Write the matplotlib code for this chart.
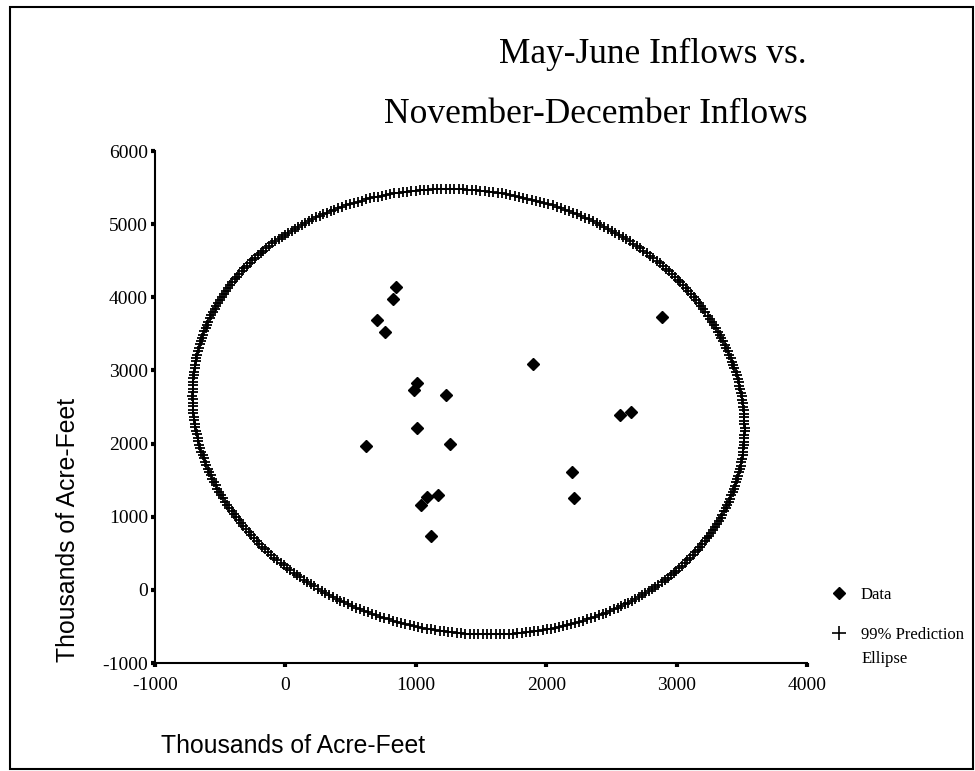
import matplotlib
matplotlib.use('Agg')

import numpy as np
import matplotlib.pyplot as plt
from matplotlib.lines import Line2D
from matplotlib.patches import Rectangle

# ---- data (thousands of acre-feet) ----
nov_dec = np.array([846, 823, 700, 765, 1900, 2891, 1010, 984, 1232, 2567,
                    2651, 1010, 619, 1260, 2199, 2214, 1089, 1173, 1038, 1114])
may_june = np.array([4145, 3973, 3690, 3521, 3084, 3735, 2824, 2733, 2668, 2387,
                     2428, 2209, 1971, 1994, 1607, 1256, 1274, 1297, 1164, 741])

x_ticks = [-1000, 0, 1000, 2000, 3000, 4000]
y_ticks = [-1000, 0, 1000, 2000, 3000, 4000, 5000, 6000]

conf = 0.99
n_ellipse = 400

# ---- 99% prediction ellipse from the sample mean / covariance ----
chi2_val = -2 * np.log(1 - conf)          # chi-square quantile, 2 dof
center = np.array([nov_dec.mean(), may_june.mean()])
cov = np.cov(nov_dec, may_june, bias=True)
vals, vecs = np.linalg.eigh(cov)
t = np.linspace(0, 2 * np.pi, n_ellipse, endpoint=False)
circle = np.vstack([np.cos(t), np.sin(t)])
ell = center[:, None] + vecs @ (np.sqrt(vals * chi2_val)[:, None] * circle)

serif = 'Liberation Serif'
sans = 'Liberation Sans'

fig = plt.figure(figsize=(9.75, 7.71), dpi=100)
ax = fig.add_axes([155 / 975, 1 - 663 / 771, 652 / 975, 512 / 771])

ax.plot(ell[0], ell[1], linestyle='none', marker='+', color='black',
        markersize=6.5, markeredgewidth=1.3)
ax.plot(nov_dec, may_june, linestyle='none', marker='D', color='black',
        markersize=6)

ax.set_xlim(-1000, 4000)
ax.set_ylim(-1000, 6000)
ax.set_xticks(x_ticks)
ax.set_yticks(y_ticks)
ax.set_xticklabels([str(v) for v in x_ticks], fontfamily=serif, fontsize=14)
ax.set_yticklabels([str(v) for v in y_ticks], fontfamily=serif, fontsize=14)
ax.tick_params(axis='x', direction='out', length=3, width=3, pad=7)
ax.tick_params(axis='y', direction='out', length=3, width=3, pad=2)

ax.spines['top'].set_visible(False)
ax.spines['right'].set_visible(False)
ax.spines['left'].set_linewidth(1.5)
ax.spines['bottom'].set_linewidth(1.5)

ax.set_xlabel('Thousands of Acre-Feet', fontfamily=sans, fontsize=17.8)
ax.xaxis.set_label_coords(0.212, -0.138)
ax.set_ylabel('Thousands of Acre-Feet', fontfamily=sans, fontsize=17.8)
ax.yaxis.set_label_coords(-0.115, 0.26)

# title, right aligned to the end of the x axis
fig.text(807 / 975, 1 - 63 / 771, 'May-June Inflows vs.', ha='right',
         va='baseline', fontfamily=serif, fontsize=25.5)
fig.text(807 / 975, 1 - 123 / 771, 'November-December Inflows', ha='right',
         va='baseline', fontfamily=serif, fontsize=25.5)

# legend
handles = [Line2D([], [], linestyle='none', marker='D', color='black', markersize=6),
           Line2D([], [], linestyle='none', marker='+', color='black',
                  markersize=10, markeredgewidth=1.2)]
leg = fig.legend(handles, ['Data', '99% Prediction'], loc='upper left',
                 bbox_to_anchor=(831 / 975, 1 - 587 / 771), frameon=False,
                 prop={'family': serif, 'size': 12}, handlelength=1.0,
                 handletextpad=0.8, labelspacing=1.45, borderpad=0,
                 borderaxespad=0, numpoints=1)
fig.text(862 / 975, 1 - 659 / 771, 'Ellipse', ha='left', va='center',
         fontfamily=serif, fontsize=12)

# outer frame
fig.add_artist(Rectangle((10 / 975, 2 / 771), 963 / 975, 762 / 771,
                         transform=fig.transFigure, fill=False,
                         edgecolor='black', linewidth=1.5))

fig.savefig('out.png', dpi=100)
plt.close(fig)
